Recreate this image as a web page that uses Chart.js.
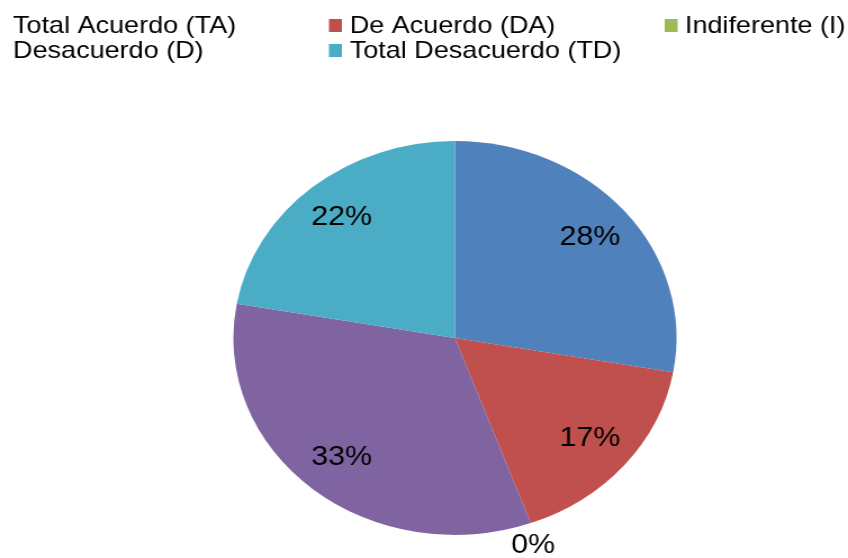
<!DOCTYPE html>
<html>
<head>
<meta charset="utf-8">
<script src="https://cdn.jsdelivr.net/npm/chart.js@4.4.1/dist/chart.umd.min.js"></script>
<style>
  html, body { margin: 0; padding: 0; background: #fff; overflow: hidden; }
  #wrap { width: 754px; height: 558px; transform: scaleX(1.1247); transform-origin: 0 0; }
</style>
</head>
<body>
<div id="wrap"><canvas id="chart" width="754" height="558"></canvas></div>
<script>
const labels = ['Total Acuerdo (TA)', 'De Acuerdo (DA)', 'Indiferente (I)', 'Desacuerdo (D)', 'Total Desacuerdo (TD)'];
const answers = [5, 3, 0, 6, 4];
const colors = ['#4F81BD', '#C0504D', '#9BBB59', '#8064A2', '#4BACC6'];

const FONT = '"Liberation Sans", Arial, sans-serif';

// legend laid out as a 3-column grid, first column's markers fall off the left edge
const gridLegend = {
    id: 'gridLegend',
    afterDraw(c) {
        const ctx = c.ctx;
        const colMarker = [-14, 292.5, 591];
        const colText = [11.6, 311, 609];
        const rowBase = [33, 58];
        ctx.save();
        ctx.font = '24px ' + FONT;
        ctx.textBaseline = 'alphabetic';
        c.data.labels.forEach((lab, i) => {
            const col = i % 3, row = Math.floor(i / 3);
            ctx.fillStyle = c.data.datasets[0].backgroundColor[i];
            ctx.fillRect(colMarker[col], rowBase[row] - 14, 11.5, 13);
            ctx.fillStyle = '#000';
            ctx.fillText(lab, colText[col], rowBase[row]);
        });
        ctx.restore();
    }
};

const pctLabels = {
    id: 'pctLabels',
    afterDatasetsDraw(c) {
        const ctx = c.ctx;
        const ds = c.data.datasets[0];
        const total = ds.data.reduce((a, b) => a + b, 0);
        ctx.save();
        ctx.font = '27px ' + FONT;
        ctx.fillStyle = '#000';
        ctx.textAlign = 'center';
        ctx.textBaseline = 'middle';
        c.getDatasetMeta(0).data.forEach((arc, i) => {
            const mid = (arc.startAngle + arc.endAngle) / 2;
            const k = ds.data[i] === 0 ? 1.12 : 0.795;
            let px = arc.x + Math.cos(mid) * arc.outerRadius * k;
            const py = arc.y + Math.sin(mid) * arc.outerRadius * k;
            if (ds.data[i] === 0) px -= 6; // outside label sits a bit left of the ray
            ctx.fillText(Math.round(ds.data[i] / total * 100) + '%', px, py);
        });
        ctx.restore();
    }
};

new Chart(document.querySelector('#chart').getContext('2d'), {
    type: 'pie',
    data: {
        labels: labels,
        datasets: [{
            data: answers,
            backgroundColor: colors,
            borderWidth: 0
        }]
    },
    options: {
        responsive: false,
        animation: false,
        layout: { padding: { left: 207.5, right: 152.5, top: 141, bottom: 23 } },
        plugins: {
            legend: { display: false },
            tooltip: { enabled: false }
        }
    },
    plugins: [pctLabels, gridLegend]
});
</script>
</body>
</html>
